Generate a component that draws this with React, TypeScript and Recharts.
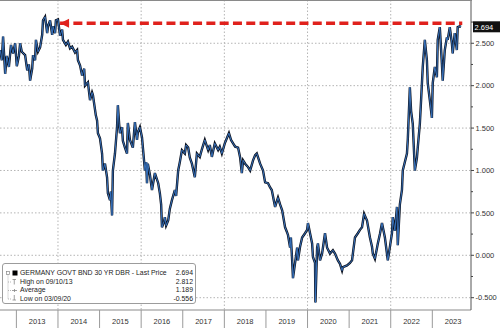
import React from 'react';
import { LineChart, Line, XAxis, YAxis, CartesianGrid, ReferenceLine, ReferenceDot } from 'recharts';

const FONT = '"Liberation Sans", Arial, sans-serif';

// decimal-year dates of the sampled points
const dates = [
  2012.61, 2012.65, 2012.68, 2012.73, 2012.77, 2012.82, 2012.87, 2012.92, 2012.97, 2013.01,
  2013.06, 2013.09, 2013.13, 2013.21, 2013.26, 2013.30, 2013.33, 2013.38, 2013.40, 2013.45,
  2013.47, 2013.52, 2013.57, 2013.62, 2013.64, 2013.69, 2013.74, 2013.76, 2013.81, 2013.86,
  2013.88, 2013.93, 2013.95, 2014.00, 2014.05, 2014.10, 2014.12, 2014.19, 2014.24, 2014.29,
  2014.34, 2014.41, 2014.46, 2014.48, 2014.53, 2014.58, 2014.63, 2014.65, 2014.72, 2014.77,
  2014.82, 2014.84, 2014.91, 2014.94, 2014.96, 2015.01, 2015.06, 2015.08, 2015.13, 2015.18,
  2015.20, 2015.25, 2015.27, 2015.30, 2015.32, 2015.37, 2015.42, 2015.44, 2015.47, 2015.49,
  2015.54, 2015.56, 2015.61, 2015.66, 2015.68, 2015.73, 2015.80, 2015.85, 2015.90, 2015.92,
  2015.97, 2016.02, 2016.09, 2016.12, 2016.14, 2016.16, 2016.21, 2016.26, 2016.33, 2016.41,
  2016.45, 2016.48, 2016.50, 2016.55, 2016.57, 2016.60, 2016.65, 2016.69, 2016.74, 2016.81,
  2016.84, 2016.89, 2016.93, 2016.98, 2017.05, 2017.08, 2017.13, 2017.17, 2017.22, 2017.29,
  2017.34, 2017.41, 2017.46, 2017.53, 2017.61, 2017.65, 2017.70, 2017.77, 2017.85, 2017.89,
  2017.94, 2018.01, 2018.06, 2018.11, 2018.16, 2018.21, 2018.26, 2018.33, 2018.38, 2018.42,
  2018.45, 2018.50, 2018.57, 2018.62, 2018.69, 2018.74, 2018.78, 2018.86, 2018.93, 2018.98,
  2019.05, 2019.10, 2019.14, 2019.22, 2019.29, 2019.34, 2019.39, 2019.46, 2019.50, 2019.53,
  2019.58, 2019.60, 2019.63, 2019.65, 2019.70, 2019.75, 2019.77, 2019.82, 2019.87, 2019.94,
  2019.99, 2020.01, 2020.06, 2020.11, 2020.13, 2020.18, 2020.19, 2020.23, 2020.25, 2020.30,
  2020.35, 2020.42, 2020.47, 2020.54, 2020.61, 2020.66, 2020.73, 2020.78, 2020.83, 2020.85,
  2020.95, 2021.02, 2021.07, 2021.09, 2021.14, 2021.21, 2021.26, 2021.31, 2021.36, 2021.43,
  2021.50, 2021.55, 2021.57, 2021.62, 2021.69, 2021.74, 2021.79, 2021.86, 2021.93, 2021.98,
  2022.03, 2022.05, 2022.10, 2022.15, 2022.17, 2022.22, 2022.27, 2022.29, 2022.34, 2022.39,
  2022.41, 2022.46, 2022.49, 2022.53, 2022.58, 2022.63, 2022.65, 2022.70, 2022.73, 2022.77,
  2022.82, 2022.87, 2022.89, 2022.94, 2022.99, 2023.01, 2023.06, 2023.11, 2023.13, 2023.18,
  2023.23, 2023.25, 2023.30, 2023.35, 2023.37, 2023.42, 2023.47, 2023.49, 2023.54, 2023.59,
  2023.61, 2023.66, 2023.69,
];

// German 30Y Bund yield (%)
const yields = [
  2.42, 2.30, 2.58, 2.14, 2.35, 2.22, 2.48, 2.38, 2.50, 2.23,
  2.35, 2.50, 2.40, 2.36, 2.18, 2.25, 2.06, 2.20, 2.36, 2.30,
  2.54, 2.40, 2.45, 2.60, 2.77, 2.812, 2.62, 2.70, 2.77, 2.60,
  2.70, 2.62, 2.77, 2.78, 2.59, 2.66, 2.54, 2.48, 2.52, 2.44,
  2.46, 2.39, 2.42, 2.30, 2.24, 2.12, 2.20, 2.00, 2.04, 1.83,
  1.92, 1.89, 1.65, 1.59, 1.44, 1.38, 1.20, 1.00, 1.08, 0.92,
  0.73, 0.65, 0.75, 0.47, 1.00, 1.20, 1.51, 1.77, 1.55, 1.44,
  1.51, 1.35, 1.27, 1.20, 1.56, 1.36, 1.27, 1.57, 1.36, 1.45,
  1.51, 1.39, 1.00, 1.10, 0.85, 1.08, 0.95, 0.77, 0.97, 0.85,
  0.73, 0.60, 0.33, 0.40, 0.45, 0.35, 0.41, 0.55, 0.65, 0.77,
  0.70, 1.00, 1.10, 1.24, 1.20, 1.30, 1.27, 1.15, 1.08, 0.92,
  1.20, 1.16, 1.25, 1.36, 1.24, 1.30, 1.16, 1.32, 1.24, 1.28,
  1.20, 1.32, 1.38, 1.44, 1.36, 1.32, 1.28, 1.27, 1.15, 0.97,
  1.12, 1.08, 1.04, 1.00, 1.12, 1.18, 1.20, 1.08, 1.00, 0.86,
  0.85, 0.80, 0.77, 0.57, 0.68, 0.60, 0.53, 0.33, 0.28, 0.24,
  0.09, 0.21, -0.06, -0.27, -0.09, 0.09, -0.06, 0.10, 0.21, 0.26,
  0.30, 0.38, 0.26, 0.14, -0.02, -0.09, -0.556, 0.09, 0.14, -0.06,
  0.02, 0.26, 0.09, 0.02, 0.06, 0.02, -0.06, -0.10, -0.18, -0.14,
  -0.12, -0.09, -0.06, 0.02, 0.21, 0.26, 0.30, 0.33, 0.49, 0.41,
  0.21, 0.10, 0.02, -0.04, 0.14, 0.25, 0.38, 0.21, -0.06, 0.10,
  0.26, 0.45, 0.29, 0.57, 0.12, 0.60, 0.77, 1.00, 1.10, 1.20,
  1.36, 1.98, 1.70, 1.55, 1.00, 1.15, 1.27, 1.55, 1.83, 2.22,
  2.54, 2.30, 2.03, 1.83, 1.62, 2.03, 2.22, 2.10, 2.54, 2.69,
  2.26, 2.06, 2.42, 2.57, 2.54, 2.69, 2.50, 2.38, 2.62, 2.42,
  2.69, 2.70, 2.694,
];

const yearTicks = [2013, 2014, 2015, 2016, 2017, 2018, 2019, 2020, 2021, 2022, 2023];
const gridYears = [2014, 2016, 2018, 2020, 2022];
const gridValues = [-0.5, 0, 0.5, 1, 1.5, 2, 2.5];
const valueTicks = [-0.5, -0.25, 0, 0.25, 0.5, 0.75, 1, 1.25, 1.5, 1.75, 2, 2.25, 2.5, 2.75];
const xDomain = [2012.606, 2023.93];
const yDomain = [-0.645, 3.01];

const seriesName = 'GERMANY GOVT BND 30 YR DBR - Last Price';
const lastPrice = 2.694;
const highLabel = 'High on 09/10/13';
const highValue = 2.812;
const averageValue = 1.189;
const lowLabel = 'Low on 03/09/20';
const lowValue = -0.556;

const arrowLevel = 2.736;
const arrowStart = 2014.05;
const arrowEnd = 2023.72;

const data = dates.map((t, i) => ({ t, v: yields[i] }));

const HALF_YEAR_PX = 20.8;

const YearTick = (props: any) => {
  const { x, y, payload } = props;
  return (
    <g>
      <line x1={x} y1={y} x2={x} y2={y + 18} stroke="#9a9a9a" strokeWidth={1} />
      <text x={x + HALF_YEAR_PX} y={y + 13.5} textAnchor="middle" fontSize={7.5} fontFamily={FONT} fill="#333">
        {payload.value}
      </text>
    </g>
  );
};

const ValueTick = (props: any) => {
  const { x, y, payload } = props;
  const v = payload.value as number;
  const major = Math.abs(v * 2 - Math.round(v * 2)) < 1e-6;
  return (
    <g>
      <line x1={x} y1={y} x2={x + (major ? 3 : 2)} y2={y} stroke="#444" strokeWidth={1} />
      {major && (
        <text x={x + 4.5} y={y} dy={2.7} fontSize={7.5} fontFamily={FONT} fill="#333" textAnchor="start">
          {v.toFixed(3)}
        </text>
      )}
    </g>
  );
};

const PriceTag = (p: any) => {
  const vb = p.viewBox || {};
  const bx = vb.x + vb.width + 2;
  const by = vb.y;
  return (
    <g>
      <rect x={bx} y={by - 5.5} width={27} height={11} fill="#111" />
      <text x={bx + 1.5} y={by + 2.7} fontSize={7.5} fontFamily={FONT} fill="#fff">
        {lastPrice.toFixed(3)}
      </text>
    </g>
  );
};

const ArrowHead = (p: any) => {
  const { cx, cy } = p;
  if (cx == null || cy == null) return null;
  return <polygon points={`${cx},${cy} ${cx + 9},${cy - 4.5} ${cx + 9},${cy + 4.5}`} fill="#e0211c" />;
};

const LegendBox = () => {
  const rowStyle: React.CSSProperties = {
    position: 'absolute',
    left: 17,
    right: 2,
    height: 8.5,
    lineHeight: '8.5px',
    display: 'flex',
    justifyContent: 'space-between',
    whiteSpace: 'nowrap',
  };
  const rows = [
    { label: seriesName, value: lastPrice.toFixed(3) },
    { label: highLabel, value: highValue.toFixed(3) },
    { label: 'Average', value: averageValue.toFixed(3) },
    { label: lowLabel, value: lowValue.toFixed(3) },
  ];
  return (
    <div
      style={{
        position: 'absolute',
        left: 2,
        top: 263,
        width: 192,
        height: 39,
        border: '1px solid #9c9c9c',
        borderRadius: 3,
        background: '#fff',
        fontFamily: FONT,
        fontSize: 6.9,
        color: '#222',
      }}
    >
      <svg width={16} height={39} style={{ position: 'absolute', left: 0, top: 0 }}>
        <rect x={3.5} y={7.5} width={3} height={3} fill="none" stroke="#888" strokeWidth={0.7} />
        <line x1={5} y1={10.5} x2={5} y2={35} stroke="#999" strokeWidth={0.7} strokeDasharray="1 1" />
        <rect x={9.5} y={6.5} width={5} height={5} fill="#000" />
        <line x1={5} y1={18} x2={9} y2={18} stroke="#999" strokeWidth={0.7} strokeDasharray="1 1" />
        <line x1={9.5} y1={15.5} x2={13} y2={15.5} stroke="#888" strokeWidth={0.8} />
        <line x1={11.25} y1={15.5} x2={11.25} y2={20.5} stroke="#888" strokeWidth={0.8} />
        <line x1={5} y1={26.5} x2={9} y2={26.5} stroke="#999" strokeWidth={0.7} strokeDasharray="1 1" />
        <line x1={9} y1={26.5} x2={14} y2={26.5} stroke="#888" strokeWidth={0.8} />
        <line x1={11.5} y1={25} x2={11.5} y2={28} stroke="#888" strokeWidth={0.8} />
        <line x1={5} y1={35} x2={9} y2={35} stroke="#999" strokeWidth={0.7} strokeDasharray="1 1" />
        <line x1={11.25} y1={31} x2={11.25} y2={36} stroke="#888" strokeWidth={0.8} />
        <line x1={9.5} y1={36} x2={13} y2={36} stroke="#888" strokeWidth={0.8} />
      </svg>
      {rows.map((r, i) => (
        <div key={i} style={{ ...rowStyle, top: 5 + i * 8.5 }}>
          <span>{r.label}</span>
          <span>{r.value}</span>
        </div>
      ))}
    </div>
  );
};

export default function App() {
  return (
    <div style={{ position: 'absolute', left: 0, top: 0, width: 500, height: 328, background: '#fff' }}>
      <LineChart width={500} height={328} data={data} margin={{ top: 0, right: 0, bottom: 0, left: 0 }}>
        <CartesianGrid
          stroke="#b4b4b4"
          strokeDasharray="1.5 2"
          horizontalValues={gridValues}
          verticalValues={gridYears}
        />
        <XAxis
          dataKey="t"
          type="number"
          domain={xDomain}
          allowDataOverflow
          ticks={yearTicks}
          interval={0}
          tick={<YearTick />}
          tickLine={false}
          tickSize={0}
          tickMargin={0}
          height={18}
          axisLine={{ stroke: '#8a8a8a' }}
        />
        <YAxis
          orientation="right"
          type="number"
          width={29}
          domain={yDomain}
          allowDataOverflow
          ticks={valueTicks}
          interval={0}
          tick={<ValueTick />}
          tickLine={false}
          tickSize={0}
          tickMargin={0}
          axisLine={{ stroke: '#555' }}
        />
        <Line dataKey="v" stroke="#0d1320" strokeWidth={2.4} dot={false} isAnimationActive={false} />
        <Line dataKey="v" stroke="#3a79c9" strokeWidth={0.9} dot={false} isAnimationActive={false} />
        <ReferenceLine
          segment={[{ x: arrowStart, y: arrowLevel }, { x: arrowEnd, y: arrowLevel }]}
          stroke="#e0211c"
          strokeWidth={3.3}
          strokeDasharray="9 4.3"
        />
        <ReferenceDot x={arrowStart} y={arrowLevel} r={5} shape={<ArrowHead />} />
        <ReferenceLine y={lastPrice} stroke="none" label={<PriceTag />} />
      </LineChart>
      <div style={{ position: 'absolute', left: 0, top: 0, width: 472, height: 1, background: '#8a8a8a' }} />
      <LegendBox />
    </div>
  );
}
